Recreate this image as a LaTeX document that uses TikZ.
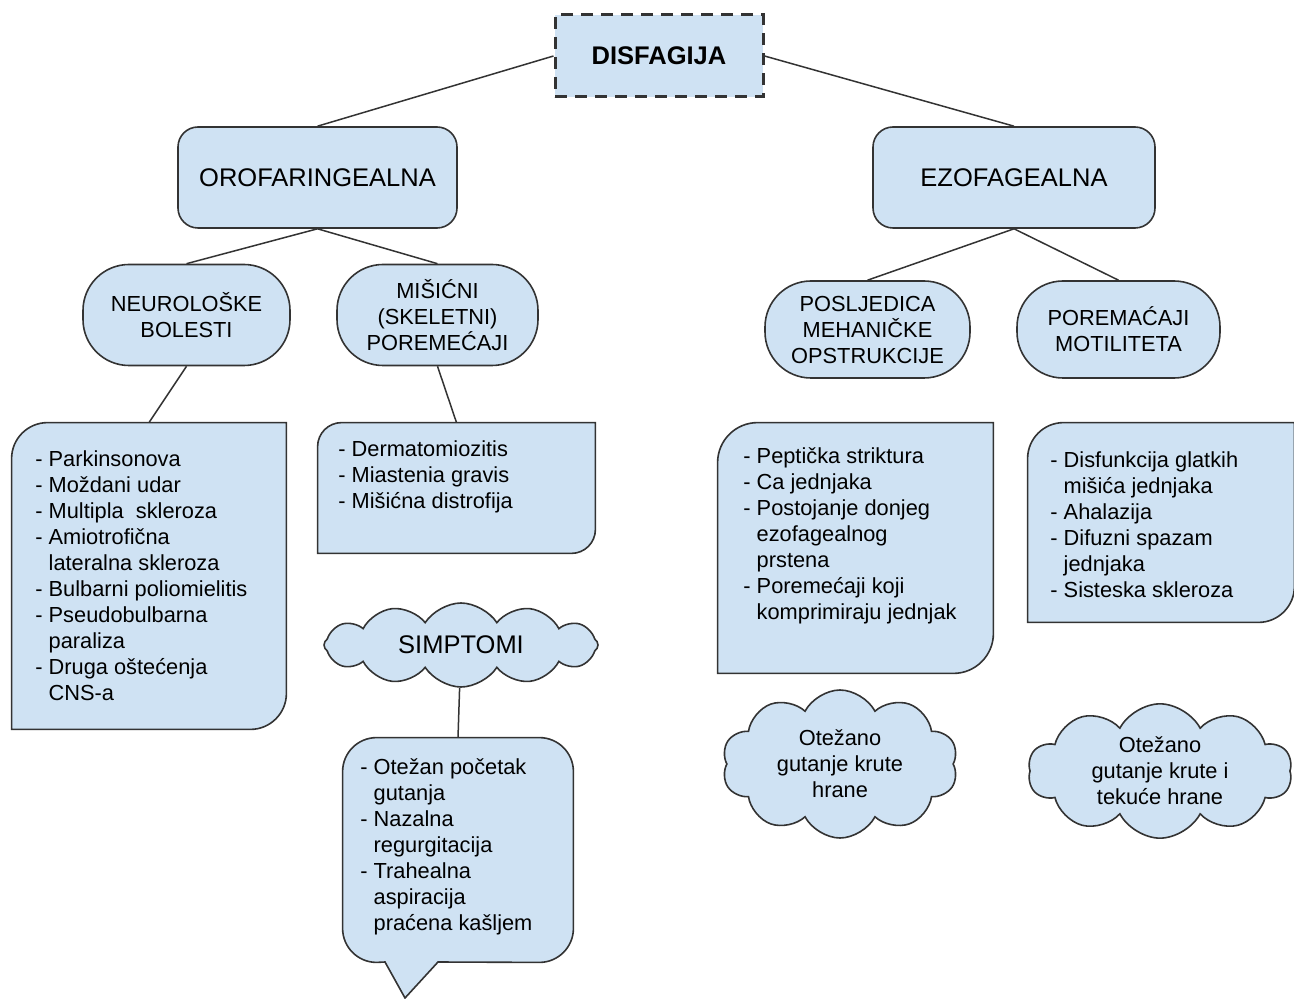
\documentclass[tikz,border=0pt]{standalone}
\usepackage{fontspec}
\setmainfont{Liberation Sans}
\usetikzlibrary{shapes.symbols,fit}
\definecolor{boxfill}{HTML}{CFE2F3}
\definecolor{edgecol}{HTML}{333333}
\newcommand\mycornerbox[2]{%
  \draw[outl] (#1.south west) -- ([yshift=-#2]#1.north west)
    arc[start angle=180,end angle=90,radius=#2] -- (#1.north east)
    -- ([yshift=#2]#1.south east) arc[start angle=0,end angle=-90,radius=#2] -- cycle;}
\begin{document}
\begin{tikzpicture}[x=0.5pt,y=-0.5pt,
  conn/.style={draw=edgecol, line width=0.75pt},
  outl/.style={draw=edgecol, fill=boxfill, line width=0.8pt},
  titlebox/.style={outl, rounded corners=10pt, inner sep=0pt, font=\fontsize{12.75}{15}\selectfont},
  pill/.style={outl, rounded corners=23pt, inner sep=0pt, align=center, font=\fontsize{10.9}{13}\selectfont},
  listtext/.style={anchor=north west, inner sep=0pt, align=left, font=\fontsize{10.9}{13}\selectfont},
  area/.style={inner sep=0pt, draw=none},
  cloudbox/.style={outl, cloud, cloud puffs=10, cloud puff arc=125, cloud ignores aspect, inner sep=1pt, align=center},
]
\useasboundingbox (0,0) rectangle (1294,999);

% top
\node[draw=edgecol, fill=boxfill, line width=1.5pt, dash pattern=on 6pt off 4pt,
      minimum width=104pt, minimum height=41pt, inner sep=0pt,
      font=\bfseries\fontsize{12.75}{15}\selectfont] (root) at (659,56) {DISFAGIJA};

\node[titlebox, minimum width=139.5pt, minimum height=50.5pt] (orof) at (317.5,177.5) {OROFARINGEALNA};
\node[titlebox, minimum width=141pt, minimum height=50.5pt] (ezo) at (1014,177.5) {EZOFAGEALNA};

% pills
\node[pill, minimum width=103.5pt, minimum height=50.5pt] (neuro) at (186.5,315) {NEUROLOŠKE\\BOLESTI};
\node[pill, minimum width=100.5pt, minimum height=50.5pt] (misic) at (437.5,315) {MIŠIĆNI\\(SKELETNI)\\POREMEĆAJI};
\node[pill, minimum width=102.5pt, minimum height=48.5pt] (posl) at (867.5,329.5) {POSLJEDICA\\MEHANIČKE\\OPSTRUKCIJE};
\node[pill, minimum width=101.5pt, minimum height=48.5pt] (porem) at (1118.5,329.5) {POREMAĆAJI\\MOTILITETA};

% list boxes
\node[area, fit={(12,423) (286,729)}] (neurolist) {};
\mycornerbox{neurolist}{18pt}
\node[listtext] (neurotxt) at (35,450) {- Parkinsonova\\- Moždani udar\\- Multipla\ \ skleroza\\- Amiotrofična\\\hphantom{- }lateralna skleroza\\- Bulbarni poliomielitis\\- Pseudobulbarna\\\hphantom{- }paraliza\\- Druga oštećenja\\\hphantom{- }CNS-a};

\node[area, fit={(318,423) (595,553)}] (misiclist) {};
\mycornerbox{misiclist}{12pt}
\node[listtext] (misictxt) at (338,440) {- Dermatomiozitis\\- Miastenia gravis\\- Mišićna distrofija};

\node[area, fit={(718,423) (993,673)}] (posllist) {};
\mycornerbox{posllist}{20pt}
\node[listtext] (posltxt) at (743,447) {- Peptička striktura\\- Ca jednjaka\\- Postojanje donjeg\\\hphantom{- }ezofagealnog\\\hphantom{- }prstena\\- Poremećaji koji\\\hphantom{- }komprimiraju jednjak};

\node[area, fit={(1028,423) (1294,622)}] (poremlist) {};
\mycornerbox{poremlist}{18pt}
\node[listtext] (poremtxt) at (1050,451) {- Disfunkcija glatkih\\\hphantom{- }mišića jednjaka\\- Ahalazija\\- Difuzni spazam\\\hphantom{- }jednjaka\\- Sisteska skleroza};

% callout
\node[area, fit={(343,738) (573,962)}] (callout) {};
\draw[outl] ([xshift=17pt]callout.north west) -- ([xshift=-17pt]callout.north east)
  arc[start angle=90,end angle=0,radius=17pt] -- ([yshift=17pt]callout.south east)
  arc[start angle=0,end angle=-90,radius=17pt] -- (438,962) -- (405,998) -- (385,962)
  -- ([xshift=17pt]callout.south west) arc[start angle=270,end angle=180,radius=17pt]
  -- ([yshift=-17pt]callout.north west) arc[start angle=180,end angle=90,radius=17pt] -- cycle;
\node[listtext] (calltxt) at (360,758) {- Otežan početak\\\hphantom{- }gutanja\\- Nazalna\\\hphantom{- }regurgitacija\\- Trahealna\\\hphantom{- }aspiracija\\\hphantom{- }praćena kašljem};

% clouds
\node[cloudbox, cloud puffs=12, cloud puff arc=115, minimum width=137pt, minimum height=42pt, font=\fontsize{12.75}{15}\selectfont] (simp) at (461,645) {SIMPTOMI};
\node[cloudbox, minimum width=118pt, minimum height=74pt, font=\fontsize{10.9}{13}\selectfont] (c1) at (840,764) {Otežano\\gutanje krute\\hrane};
\node[cloudbox, minimum width=132pt, minimum height=66pt, font=\fontsize{10.9}{13}\selectfont] (c2) at (1160,771) {Otežano\\gutanje krute i\\tekuće hrane};

% connectors
\draw[conn] (root.west) -- (orof.north);
\draw[conn] (root.east) -- (ezo.north);
\draw[conn] (orof.south) -- (neuro.north);
\draw[conn] (orof.south) -- (misic.north);
\draw[conn] (ezo.south) -- (posl.north);
\draw[conn] (ezo.south) -- (porem.north);
\draw[conn] (neuro.south) -- (neurolist.north);
\draw[conn] (misic.south) -- (misiclist.north);
\draw[conn] (simp) -- (callout.north);
\end{tikzpicture}
\end{document}
